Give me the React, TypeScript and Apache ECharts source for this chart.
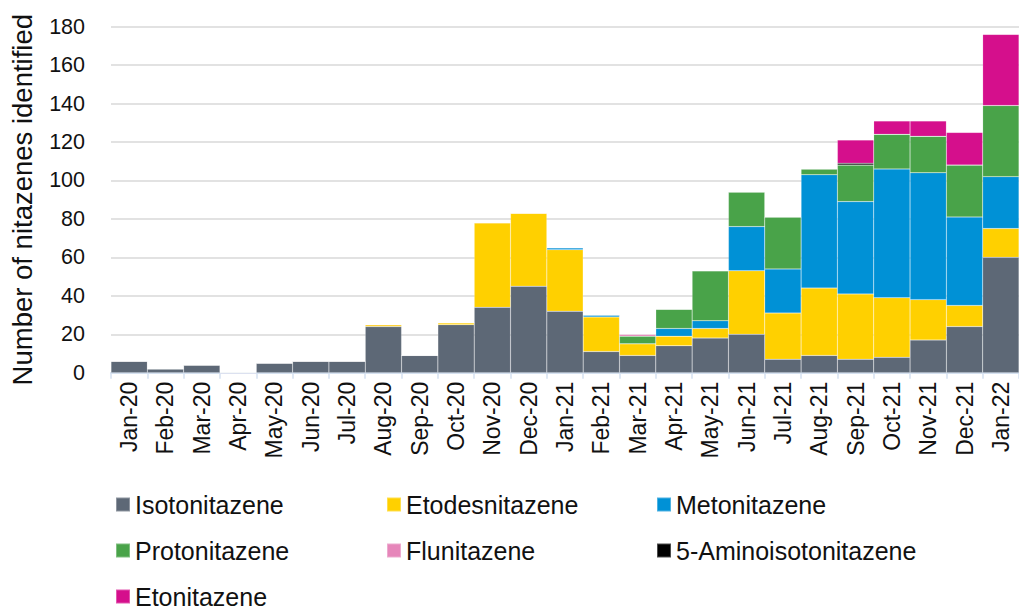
import React, { useEffect, useRef } from "react";
import * as echarts from "echarts";

const categories = [
  "Jan-20", "Feb-20", "Mar-20", "Apr-20", "May-20", "Jun-20", "Jul-20", "Aug-20", "Sep-20",
  "Oct-20", "Nov-20", "Dec-20", "Jan-21", "Feb-21", "Mar-21", "Apr-21", "May-21", "Jun-21",
  "Jul-21", "Aug-21", "Sep-21", "Oct-21", "Nov-21", "Dec-21", "Jan-22",
];

const isotonitazene = [6, 2, 4, 0, 5, 6, 6, 24, 9, 25, 34, 45, 32, 11, 9, 14, 18, 20, 7, 9, 7, 8, 17, 24, 60];
const etodesnitazene = [0, 0, 0, 0, 0, 0, 0, 1, 0, 1, 44, 38, 32, 18, 6, 5, 5, 33, 24, 35, 34, 31, 21, 11, 15];
const metonitazene = [0, 0, 0, 0, 0, 0, 0, 0, 0, 0, 0, 0, 1, 1, 0, 4, 4, 23, 23, 59, 48, 67, 66, 46, 27];
const protonitazene = [0, 0, 0, 0, 0, 0, 0, 0, 0, 0, 0, 0, 0, 0, 4, 10, 26, 18, 27, 3, 19, 18, 19, 27, 37];
const flunitazene = [0, 0, 0, 0, 0, 0, 0, 0, 0, 0, 0, 0, 0, 0, 1, 0, 0, 0, 0, 0, 0, 0, 0, 0, 0];
const aminoisotonitazene = [0, 0, 0, 0, 0, 0, 0, 0, 0, 0, 0, 0, 0, 0, 0, 0, 0, 0, 0, 0, 1, 0, 0, 0, 0];
const etonitazene = [0, 0, 0, 0, 0, 0, 0, 0, 0, 0, 0, 0, 0, 0, 0, 0, 0, 0, 0, 0, 12, 7, 8, 17, 37];

const yTicks = [0, 20, 40, 60, 80, 100, 120, 140, 160, 180];

const seriesDefs = [
  { name: "Isotonitazene", data: isotonitazene, color: "#5d6876" },
  { name: "Etodesnitazene", data: etodesnitazene, color: "#ffd000" },
  { name: "Metonitazene", data: metonitazene, color: "#0091d6" },
  { name: "Protonitazene", data: protonitazene, color: "#49a349" },
  { name: "Flunitazene", data: flunitazene, color: "#e686ba" },
  { name: "5-Aminoisotonitazene", data: aminoisotonitazene, color: "#000000" },
  { name: "Etonitazene", data: etonitazene, color: "#d50f8c" },
];

// legend placement: [name, column, row]
const legendLayout: [string, number, number][] = [
  ["Isotonitazene", 0, 0],
  ["Etodesnitazene", 1, 0],
  ["Metonitazene", 2, 0],
  ["Protonitazene", 0, 1],
  ["Flunitazene", 1, 1],
  ["5-Aminoisotonitazene", 2, 1],
  ["Etonitazene", 0, 2],
];
const legendCols = [115, 386, 656];
const legendRowCenters = [504, 550, 596];

const FONT = "'Liberation Sans', Arial, sans-serif";

export default function App() {
  const ref = useRef<HTMLDivElement>(null);
  useEffect(() => {
    if (!ref.current) return;
    const chart = echarts.init(ref.current, undefined, { renderer: "svg" });
    const legends = legendLayout.map(([name, c, r]) => ({
      orient: "horizontal" as const,
      icon: "rect",
      itemWidth: 14,
      itemHeight: 14,
      left: legendCols[c],
      top: legendRowCenters[r] - 12,
      padding: 0,
      data: [name],
      textStyle: { fontFamily: FONT, fontSize: 25, color: "#111", lineHeight: 24 },
    }));
    chart.setOption({
      animation: false,
      textStyle: { fontFamily: FONT },
      grid: { left: 109, right: -5, top: 26.7, bottom: 236.3, containLabel: false },
      legend: legends,
      xAxis: {
        type: "category",
        data: categories,
        boundaryGap: true,
        axisLine: { show: true, lineStyle: { color: "#d5e1f0", width: 2 } },
        axisTick: { show: true, alignWithLabel: false, length: 6, lineStyle: { color: "#d5e1f0", width: 1.5 } },
        axisLabel: {
          rotate: 90,
          interval: 0,
          margin: 9,
          fontSize: 23,
          color: "#111",
          fontFamily: FONT,
        },
      },
      yAxis: {
        type: "value",
        min: 0,
        max: yTicks[yTicks.length - 1],
        interval: 20,
        name: "Number of nitazenes identified",
        nameLocation: "middle",
        nameGap: 75,
        nameTextStyle: { fontSize: 27.5, color: "#111", fontFamily: FONT },
        axisLine: { show: false },
        axisTick: { show: false },
        axisLabel: { fontSize: 21.5, color: "#111", margin: 26, fontFamily: FONT },
        splitLine: { show: true, lineStyle: { color: "#d9d9d9", width: 1.5 } },
      },
      series: seriesDefs.map((s) => ({
        name: s.name,
        type: "bar",
        stack: "total",
        data: s.data,
        barCategoryGap: "0%",
        barWidth: "100%",
        itemStyle: { color: s.color, borderColor: "rgba(255,255,255,0.3)", borderWidth: 0.5 },
        emphasis: { disabled: true },
      })),
    });
    return () => chart.dispose();
  }, []);
  return <div ref={ref} style={{ width: 1019, height: 609, position: "absolute", left: 0, top: 0 }} />;
}
